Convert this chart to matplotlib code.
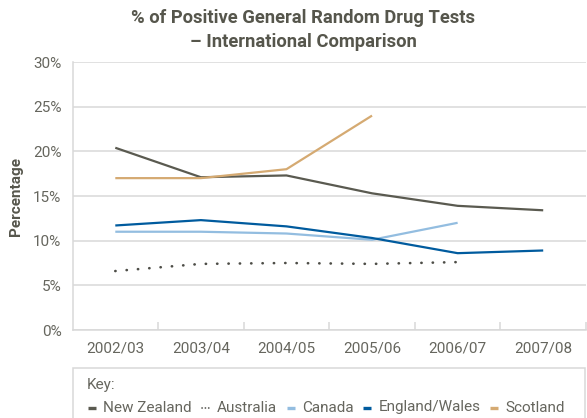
import matplotlib
matplotlib.use("Agg")
import matplotlib.pyplot as plt
from matplotlib.lines import Line2D
from matplotlib.patches import Rectangle
import numpy as np

plt.rcParams['font.family'] = ['Roboto', 'DejaVu Sans']

# Data
years = ["2002/03", "2003/04", "2004/05", "2005/06", "2006/07", "2007/08"]
new_zealand = [20.4, 17.1, 17.3, 15.3, 13.9, 13.4]
australia = [6.6, 7.4, 7.5, 7.4, 7.6]
canada = [11.0, 11.0, 10.8, 10.1, 12.0]
england_wales = [11.7, 12.3, 11.6, 10.3, 8.6, 8.9]
scotland = [17.0, 17.0, 18.0, 24.0]
y_ticks = [0, 5, 10, 15, 20, 25, 30]

TEXT = "#66665e"
TITLE = "#56564c"
GRID = "#d8d8d8"

DOTTED = (0, (0.1, 4.2))
series = [
    ("New Zealand", new_zealand, "#5a5a50", "-"),
    ("Australia", australia, "#4d4d47", DOTTED),
    ("Canada", canada, "#93bde0", "-"),
    ("England/Wales", england_wales, "#005b9e", "-"),
    ("Scotland", scotland, "#d5aa72", "-"),
]

W, H = 587, 418
fig = plt.figure(figsize=(W / 100, H / 100), dpi=100)
ax = fig.add_axes([72.5 / W, (H - 330) / H, (586 - 72.5) / W, (330 - 62) / H])

for name, vals, color, ls in series:
    x = np.arange(len(vals))
    dotted = ls != "-"
    ax.plot(x, vals, color=color, linestyle=ls, linewidth=1.9 if dotted else 1.6,
            solid_capstyle="butt", dash_capstyle="round", zorder=3)

ax.set_xlim(-0.5, len(years) - 0.5)
ax.set_ylim(0, 30)
ax.set_yticks(y_ticks)
ax.set_yticklabels([f"{v}%" for v in y_ticks])
ax.set_xticks(np.arange(len(years)))
ax.set_xticklabels(years)
ax.set_xticks(np.arange(len(years)) + 0.5, minor=True)

ax.grid(axis="y", color=GRID, linewidth=1.1, zorder=0)
ax.set_axisbelow(True)
for side in ("top", "right"):
    ax.spines[side].set_visible(False)
for side in ("left", "bottom"):
    ax.spines[side].set_color(GRID)
    ax.spines[side].set_linewidth(1.1)

ax.tick_params(axis="y", length=0, pad=8, labelsize=11, labelcolor=TEXT)
ax.tick_params(axis="x", which="major", length=0, pad=8, labelsize=11, labelcolor=TEXT)
ax.tick_params(axis="x", which="minor", direction="in", length=6, width=1.1, color=GRID)

ax.set_ylabel("Percentage", fontsize=11, fontweight="bold", color=TITLE, labelpad=7)

fig.text(303 / W, 1 - 18 / H, "% of Positive General Random Drug Tests",
         ha="center", va="center", fontsize=13.2, fontweight="bold", color=TITLE)
fig.text(303 / W, 1 - 42 / H, "– International Comparison",
         ha="center", va="center", fontsize=13.2, fontweight="bold", color=TITLE)

# Key box below the chart
fig.patches.append(Rectangle((72.5 / W, -0.1), (585 - 72.5) / W, 0.1 + (H - 368) / H,
                             transform=fig.transFigure, fill=False,
                             edgecolor=GRID, linewidth=1.1))
fig.text(87 / W, 1 - 385 / H, "Key:", ha="left", va="center", fontsize=11, color=TEXT)

fig.canvas.draw()
renderer = fig.canvas.get_renderer()
xpos = 88.0
ykey = 1 - 407.5 / H
for name, vals, color, ls in series:
    key_len = 8
    if ls == "-":
        key_style, key_lw = "-", 2.4
    else:
        key_style, key_lw = (0, (0.1, 1.9)), 1.2
    fig.add_artist(Line2D([xpos / W, (xpos + key_len) / W], [ykey, ykey],
                          transform=fig.transFigure, color=color,
                          linestyle=key_style, linewidth=key_lw,
                          solid_capstyle="butt", dash_capstyle="round"))
    xpos += key_len + 7
    t = fig.text(xpos / W, ykey, name, ha="left", va="center", fontsize=11, color=TEXT)
    bb = t.get_window_extent(renderer)
    xpos += bb.width + 10

fig.savefig("out.png", dpi=100)
